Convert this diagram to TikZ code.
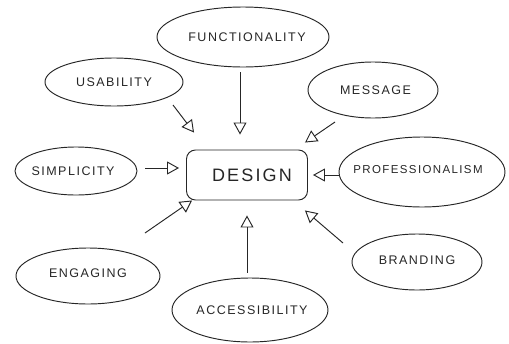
\documentclass[tikz,border=0pt]{standalone}
\usepackage{fontspec}
\setmainfont{Liberation Sans}[LetterSpace=12]
\usetikzlibrary{arrows.meta,calc,shapes.geometric}
\newcommand{\zw}[3][0pt]{\makebox[0pt]{\hspace*{#1}\raisebox{#2}{#3}}}
\begin{document}
\begin{tikzpicture}[x=1pt,y=-1pt,
  ink/.style={line width=0.95pt,draw=black!85},
  bub/.style={ink,ellipse,inner sep=0pt,font=\fontsize{12.5}{14}\selectfont,text=black!85},
  arr/.style={ink,-{Triangle[open,length=12pt,width=13pt,line width=0.95pt]}},
  hub/.style={ink,rectangle,rounded corners=9pt,minimum width=121pt,minimum height=50pt,font=\fontsize{18}{20}\selectfont,text=black!85}]
\useasboundingbox (0,0) rectangle (509,343);
\node[bub,minimum width=172pt,minimum height=60pt] (fun) at (243,37) {\zw[8pt]{0pt}{FUNCTIONALITY}};
\node[bub,minimum width=138pt,minimum height=48pt] (usa) at (114,82) {\zw{-4pt}{USABILITY}};
\node[bub,minimum width=130pt,minimum height=56pt] (mes) at (373,90) {\zw[5pt]{0pt}{MESSAGE}};
\node[bub,minimum width=122pt,minimum height=48pt] (sim) at (76,171) {\zw[-6pt]{-2pt}{SIMPLICITY}};
\node[bub,minimum width=166pt,minimum height=70pt] (pro) at (422,172) {\zw[-8pt]{5pt}{\fontsize{11.5}{13}\selectfont PROFESSIONALISM}};
\node[bub,minimum width=144pt,minimum height=56pt] (eng) at (88,276) {\zw{5pt}{ENGAGING}};
\node[bub,minimum width=130pt,minimum height=56pt] (bra) at (417,262) {\zw{3pt}{BRANDING}};
\node[bub,minimum width=156pt,minimum height=64pt] (acc) at (250,310) {\zw[4pt]{-1pt}{ACCESSIBILITY}};
\node[hub] (des) at (247,175) {\zw[10pt]{0pt}{DESIGN}};
\draw[arr] ($(fun.south)+(-3,5)$) -- ($(des.north)+(-7,-15)$);
\draw[arr] ($(usa)+(59,23)$) -- ($(des.north west)+(8,-17)$);
\draw[arr] ($(mes)+(-38,32)$) -- ($(des.north east)+(-3,-7)$);
\draw[arr] ($(sim.east)+(8,-3)$) -- ($(des.west)+(-7,-7)$);
\draw[arr] ($(pro.west)+(1,3)$) -- ($(des.east)+(5,0)$);
\draw[arr] ($(eng)+(57,-43)$) -- ($(des.south west)+(6,0)$);
\draw[arr] ($(acc.north)+(-3,-5)$) -- ($(des.south)+(0,15)$);
\draw[arr] ($(bra)+(-74,-19)$) -- ($(des.south east)+(-3,10)$);
\end{tikzpicture}
\end{document}
